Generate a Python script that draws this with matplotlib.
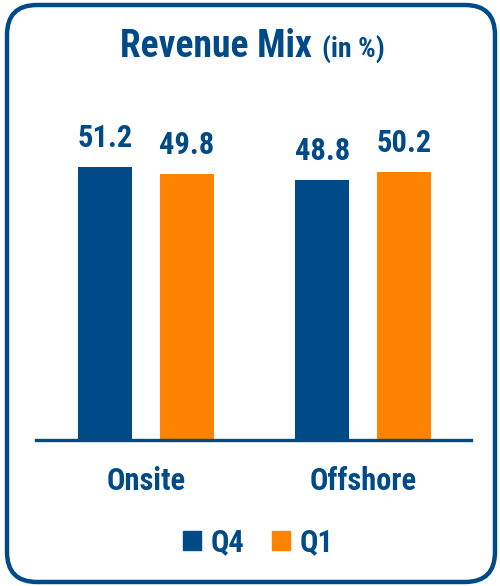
import matplotlib
matplotlib.use("Agg")
import matplotlib.pyplot as plt
from matplotlib.patches import FancyBboxPatch, Patch

categories = ["Onsite", "Offshore"]
series_names = ["Q4", "Q1"]
q4_values = [51.2, 48.8]
q1_values = [49.8, 50.2]

NAVY = "#004B87"
ORANGE = "#FF8200"
FONT = ["Roboto Condensed", "Archivo Narrow", "Liberation Sans", "DejaVu Sans"]
plt.rcParams["font.family"] = FONT

fig = plt.figure(figsize=(5.0, 5.86), dpi=100)
fig.patch.set_facecolor("white")

# rounded frame
frame = FancyBboxPatch((7 / 500, 4 / 586), 488 / 500, 577 / 586,
                       boxstyle="round,pad=0,rounding_size=0.06",
                       transform=fig.transFigure, facecolor="none",
                       edgecolor=NAVY, linewidth=3.2, mutation_aspect=500 / 586)
fig.patches.append(frame)

ax = fig.add_axes([36 / 500, 1 - 440 / 586, 435 / 500, 320 / 586])
x = list(range(len(categories)))
w = 0.249
off = 0.188
b1 = ax.bar([i - off for i in x], q4_values, width=w, color=NAVY, label=series_names[0])
b2 = ax.bar([i + off for i in x], q1_values, width=w, color=ORANGE, label=series_names[1])

for bars, vals in ((b1, q4_values), (b2, q1_values)):
    for r, v in zip(bars, vals):
        ax.annotate(f"{v:.1f}", (r.get_x() + r.get_width() / 2, v),
                    xytext=(0, 14.4), textcoords="offset points",
                    ha="center", va="baseline", fontsize=22, fontweight="bold",
                    color=NAVY)

ax.set_xlim(-0.507, 1.498)
ax.set_ylim(0, 60)
ax.set_xticks(x)
ax.set_xticklabels(categories, fontsize=22, color=NAVY, fontweight="bold", va="baseline")
ax.tick_params(axis="x", length=0, pad=36)
ax.set_yticks([])
for s in ("top", "right", "left"):
    ax.spines[s].set_visible(False)
ax.spines["bottom"].set_color(NAVY)
ax.spines["bottom"].set_linewidth(2.4)
ax.set_facecolor("none")

fig.text(312 / 500, 1 - 57 / 586, "Revenue Mix", ha="right", va="baseline",
         fontsize=27, fontweight="bold", color=NAVY)
fig.text(322 / 500, 1 - 57 / 586, "(in %)", ha="left", va="baseline",
         fontsize=20, fontweight="bold", color=NAVY)

handles = [Patch(color=NAVY, label=series_names[0]), Patch(color=ORANGE, label=series_names[1])]
fig.legend(handles=handles, loc="center", bbox_to_anchor=(0.516, 1 - 542 / 586),
           ncol=2, frameon=False, handlelength=0.6, handleheight=0.6,
           handletextpad=0.3, columnspacing=0.9, labelcolor=NAVY,
           prop={"family": FONT, "size": 22, "weight": "bold"})

fig.savefig("out.png", dpi=100, facecolor="white")
